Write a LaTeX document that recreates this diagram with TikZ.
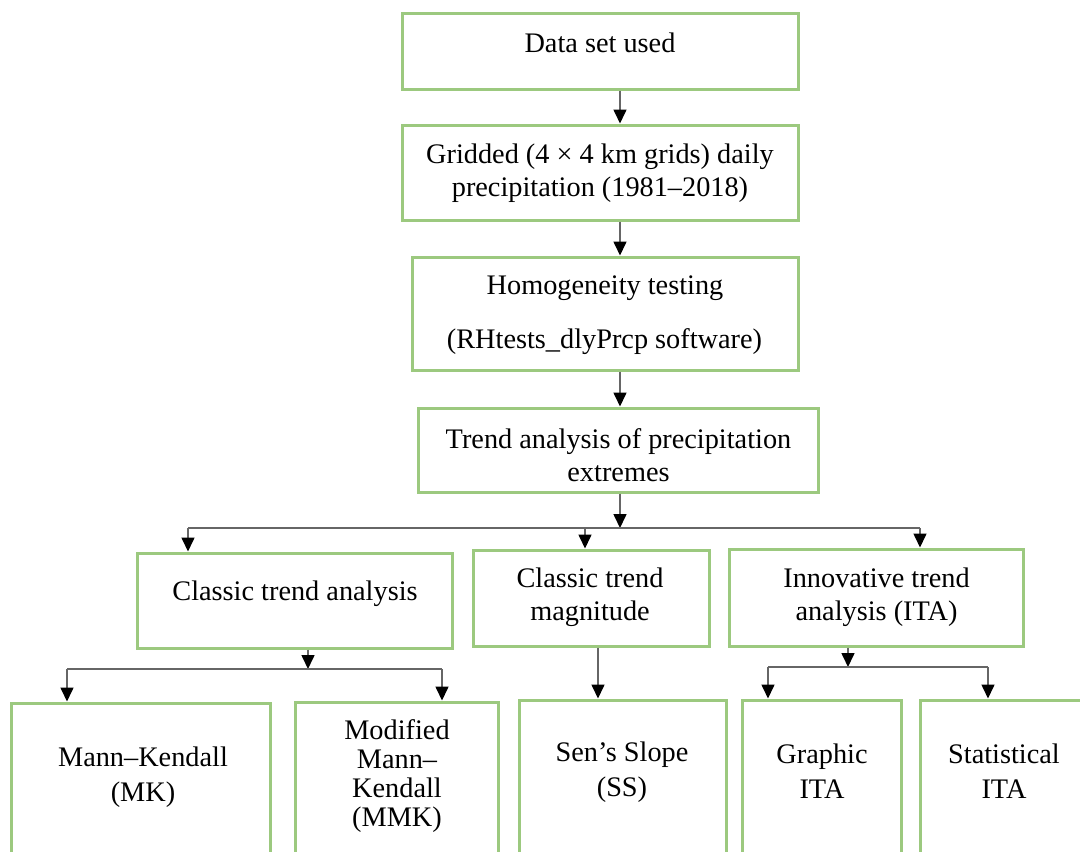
\documentclass[tikz,border=0pt]{standalone}
\usepackage{fontspec}
\setmainfont{Liberation Serif}
\usetikzlibrary{arrows.meta}
\definecolor{boxgreen}{HTML}{9CC97F}
\definecolor{linegray}{HTML}{666666}
\begin{document}
\begin{tikzpicture}[x=1pt,y=-1pt,
  box/.style={draw=boxgreen, line width=3pt, fill=white, rectangle, inner sep=0pt},
  txt/.style={inner sep=0pt, align=center, font=\fontsize{28.3}{33}\selectfont},
  conn/.style={draw=linegray, line width=1.6pt},
  arr/.style={conn, -{Triangle[width=13pt,length=14pt,fill=black,color=black]}}]
\useasboundingbox (0,0) rectangle (1080,852);
\clip (0,0) rectangle (1080,852);
\fill[white] (0,0) rectangle (1080,852);
% boxes
\node[box, minimum width=396pt, minimum height=76pt] (b1) at (600,51) {};
\node[box, minimum width=396pt, minimum height=95pt] (b2) at (600,172.5) {};
\node[box, minimum width=386pt, minimum height=113pt] (b3) at (605,313.5) {};
\node[box, minimum width=400pt, minimum height=84pt] (b4) at (618,450) {};
\node[box, minimum width=315pt, minimum height=95pt] (c1) at (294.5,600.5) {};
\node[box, minimum width=236pt, minimum height=96pt] (c2) at (591,598) {};
\node[box, minimum width=294pt, minimum height=97pt] (c3) at (876,597.5) {};
\node[box, minimum width=259pt, minimum height=200pt] (d1) at (140.5,803) {};
\node[box, minimum width=203pt, minimum height=200pt] (d2) at (396.5,802) {};
\node[box, minimum width=207pt, minimum height=200pt] (d3) at (622.5,800) {};
\node[box, minimum width=159pt, minimum height=200pt] (d4) at (821.5,800) {};
\node[box, minimum width=200pt, minimum height=200pt] (d5) at (1020,800) {};
% texts
\node[txt] (t1) at (600,43) {Data set used};
\node[txt] (t2) at (600,173) {Gridded (4 × 4 km grids) daily\\precipitation (1981–2018)};
\node[txt] (t3a) at (605,288) {Homogeneity testing};
\node[txt] (t3b) at (604.5,342) {(RHtests\_dlyPrcp software)};
\node[txt] (t4) at (618.5,455) {Trend analysis of precipitation\\extremes};
\node[txt] (t5) at (295,594) {Classic trend analysis};
\node[txt] (t6) at (590,597.5) {Classic trend\\magnitude};
\node[txt] (t7) at (876.5,597) {Innovative trend\\analysis (ITA)};
\node[txt, font=\fontsize{28.3}{35}\selectfont] (t8) at (143,777.5) {Mann–Kendall\\(MK)};
\node[txt, font=\fontsize{28.3}{29.3}\selectfont] (t9) at (397,776) {Modified\\Mann–\\Kendall\\(MMK)};
\node[txt, font=\fontsize{28.3}{35}\selectfont] (t10) at (622,772) {Sen’s Slope\\(SS)};
\node[txt, font=\fontsize{28.3}{35}\selectfont] (t11) at (822,771) {Graphic\\ITA};
\node[txt, font=\fontsize{28.3}{35}\selectfont] (t12) at (1004,771) {Statistical\\ITA};
% connector coordinates
\coordinate (x1) at (620,0);
\coordinate (h1) at (620,528);
\coordinate (h1l) at (188,528);
\coordinate (h1m) at (585,528);
\coordinate (h1r) at (920,528);
\coordinate (h2) at (308,669);
\coordinate (h2l) at (67,669);
\coordinate (h2r) at (442,669);
\coordinate (x3) at (598,0);
\coordinate (h3) at (848,667);
\coordinate (h3l) at (768,667);
\coordinate (h3r) at (988,667);
% connectors
\draw[arr] (b1.south -| x1) -- (b2.north -| x1);
\draw[arr] (b2.south -| x1) -- (b3.north -| x1);
\draw[arr] (b3.south -| x1) -- (b4.north -| x1);
\draw[arr] (b4.south -| h1) -- (h1);
\draw[conn] (h1l) -- (h1r);
\draw[arr] (h1l) -- (c1.north -| h1l);
\draw[arr] (h1m) -- (c2.north -| h1m);
\draw[arr] (h1r) -- (c3.north -| h1r);
\draw[arr] (c1.south -| h2) -- (h2);
\draw[conn] (h2l) -- (h2r);
\draw[arr] (h2l) -- (d1.north -| h2l);
\draw[arr] (h2r) -- (d2.north -| h2r);
\draw[arr] (c2.south -| x3) -- (d3.north -| x3);
\draw[arr] (c3.south -| h3) -- (h3);
\draw[conn] (h3l) -- (h3r);
\draw[arr] (h3l) -- (d4.north -| h3l);
\draw[arr] (h3r) -- (d5.north -| h3r);
\end{tikzpicture}
\end{document}
